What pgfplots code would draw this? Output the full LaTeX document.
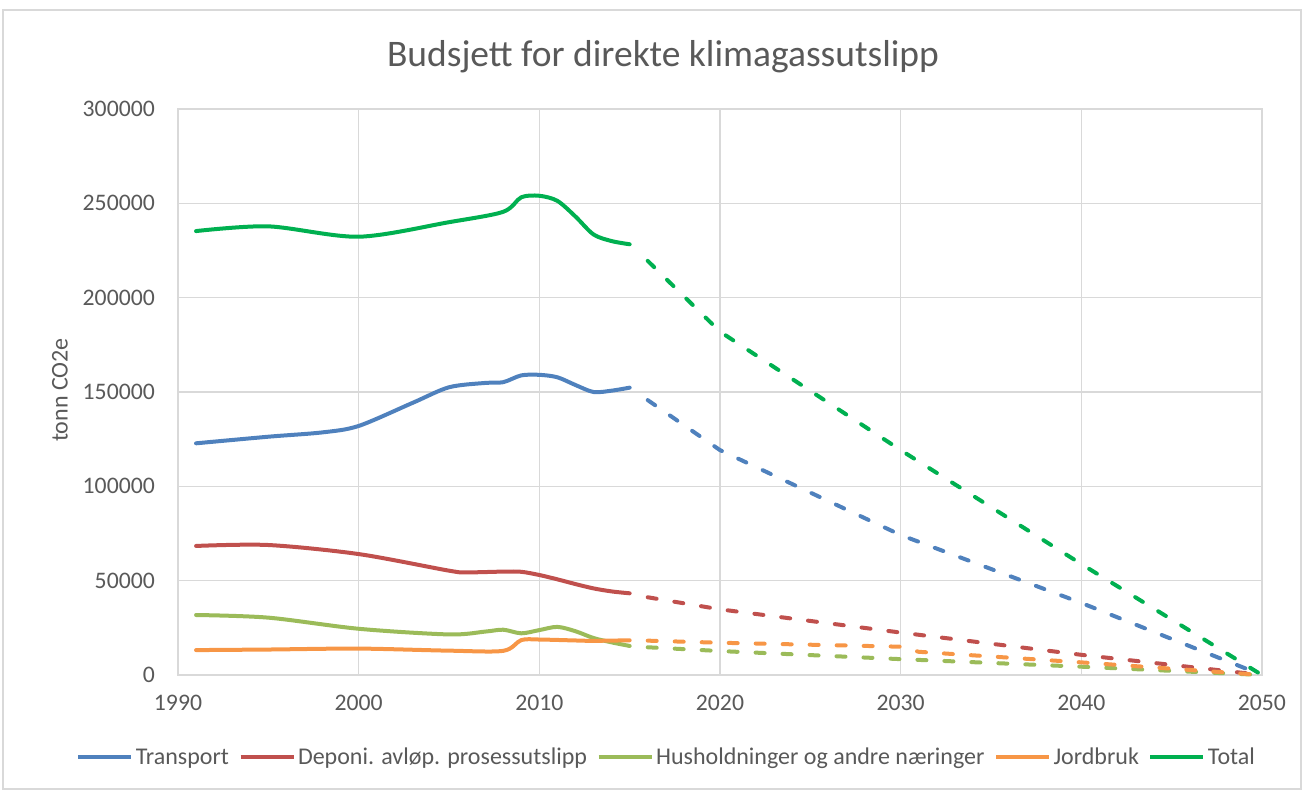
\documentclass[border=0pt]{standalone}
\usepackage{pgfplots}
\pgfplotsset{compat=1.18}
\usepackage{fontspec}
\setmainfont{Carlito}
\definecolor{cblue}{HTML}{4F81BD}
\definecolor{cred}{HTML}{C0504D}
\definecolor{clgreen}{HTML}{9BBB59}
\definecolor{corange}{HTML}{F79646}
\definecolor{cgreen}{HTML}{00B050}
\definecolor{gridgray}{HTML}{D9D9D9}
\definecolor{txtgray}{HTML}{595959}
\begin{document}
\begin{tikzpicture}[x=1pt,y=1pt]
\begin{axis}[
  at={(0pt,0pt)}, anchor=south west,
  scale only axis, width=1084pt, height=566pt,
  xmin=1990, xmax=2050, ymin=0, ymax=300000,
  xtick={1990,2000,...,2050},
  ytick={0,50000,100000,150000,200000,250000,300000},
  grid=major,
  grid style={line width=1.2pt, color=gridgray},
  axis line style={line width=1.8pt, color=gridgray},
  major tick length=0pt, tick style={draw=none},
  ticklabel style={font=\fontsize{23.7}{28}\selectfont, text=txtgray, inner sep=0pt},
  yticklabel style={anchor=east, xshift=-23pt},
  xticklabel style={anchor=north, yshift=-20pt},
  /pgf/number format/assume math mode=true,
  /pgf/number format/1000 sep={},
  scaled y ticks=false,
  yticklabel={\pgfmathprintnumber[fixed,precision=0,1000 sep={}]{\tick}},
  xticklabel={\pgfmathprintnumber[fixed,precision=0,1000 sep={}]{\tick}},
  legend columns=5,
  legend style={at={(axis description cs:0.451,-0.145)}, anchor=center, draw=none, fill=none,
    font=\fontsize{24}{28}\selectfont, text=txtgray,
    nodes={inner sep=2.5pt},
    /tikz/every even column/.append style={column sep=7pt}},
  legend image code/.code={\draw[#1, line width=4pt, line cap=butt, solid] (0pt,0pt) -- (53pt,0pt);},
  every axis plot/.append style={line width=4pt, line cap=round, line join=round},
  clip=false,
]
% solid historical series
\addplot[cblue, smooth] coordinates {
(1991,122800) (1995,126300) (1998,128600) (2000,132000) (2003,144300) (2005,152500)
(2007,154800) (2008,155200) (2009,158800) (2010,159100) (2011,157800) (2012,153700)
(2013,150000) (2014,150700) (2015,152300)};
\addlegendentry{Transport}
\addplot[cred, smooth] coordinates {
(1991,68400) (1995,68900) (2000,64100) (2005,55300) (2006,54400) (2008,54800)
(2009,54700) (2010,53000) (2011,50700) (2012,48200) (2013,45900) (2014,44300) (2015,43300)};
\addlegendentry{Deponi. avløp. prosessutslipp}
\addplot[clgreen, smooth] coordinates {
(1991,31800) (1995,30400) (2000,24500) (2005,21500) (2007,23000) (2008,24000)
(2009,22100) (2010,23800) (2011,25500) (2012,23200) (2013,19600) (2014,17300) (2015,15400)};
\addlegendentry{Husholdninger og andre næringer}
\addplot[corange, smooth] coordinates {
(1991,13200) (1995,13500) (2000,14000) (2005,12900) (2008,12800) (2009,18500)
(2010,18800) (2012,18300) (2013,18100) (2015,18400)};
\addlegendentry{Jordbruk}
\addplot[cgreen, smooth] coordinates {
(1991,235300) (1995,237800) (2000,232300) (2005,240000) (2008,245500) (2009,253200)
(2010,254000) (2011,251300) (2012,243000) (2013,233500) (2014,230000) (2015,228300)};
\addlegendentry{Total}
% dashed projections
\addplot[forget plot, cblue, dash pattern=on 9pt off 18pt] coordinates {
(2016,145700) (2020,119200) (2030,74200) (2040,38200) (2050,0)};
\addplot[forget plot, cred, dash pattern=on 9pt off 18pt] coordinates {
(2016,41200) (2020,34800) (2030,22500) (2040,10700) (2050,0)};
\addplot[forget plot, clgreen, dash pattern=on 9pt off 18pt] coordinates {
(2016,14700) (2020,12700) (2030,8400) (2040,4400) (2050,0)};
\addplot[forget plot, corange, dash pattern=on 9pt off 18pt] coordinates {
(2016,18200) (2020,17100) (2030,15000) (2031,12300) (2040,6700) (2050,0)};
\addplot[forget plot, cgreen, dash pattern=on 9pt off 18pt] coordinates {
(2016,219500) (2020,182000) (2030,119200) (2040,58800) (2050,0)};
\end{axis}
% title and y label
\node[text=txtgray, font=\fontsize{37.5}{44}\selectfont] at (485pt,618pt) {Budsjett for direkte klimagassutslipp};
\node[text=txtgray, font=\fontsize{24}{28}\selectfont, rotate=90] at (-118pt,285pt) {tonn CO2e};
% outer chart border
\draw[gridgray, line width=1.2pt] (-175pt,-114pt) rectangle (1123pt,665pt);
\pgfresetboundingbox
\path (-178pt,-117pt) rectangle (1128pt,675pt);
\end{tikzpicture}
\end{document}
